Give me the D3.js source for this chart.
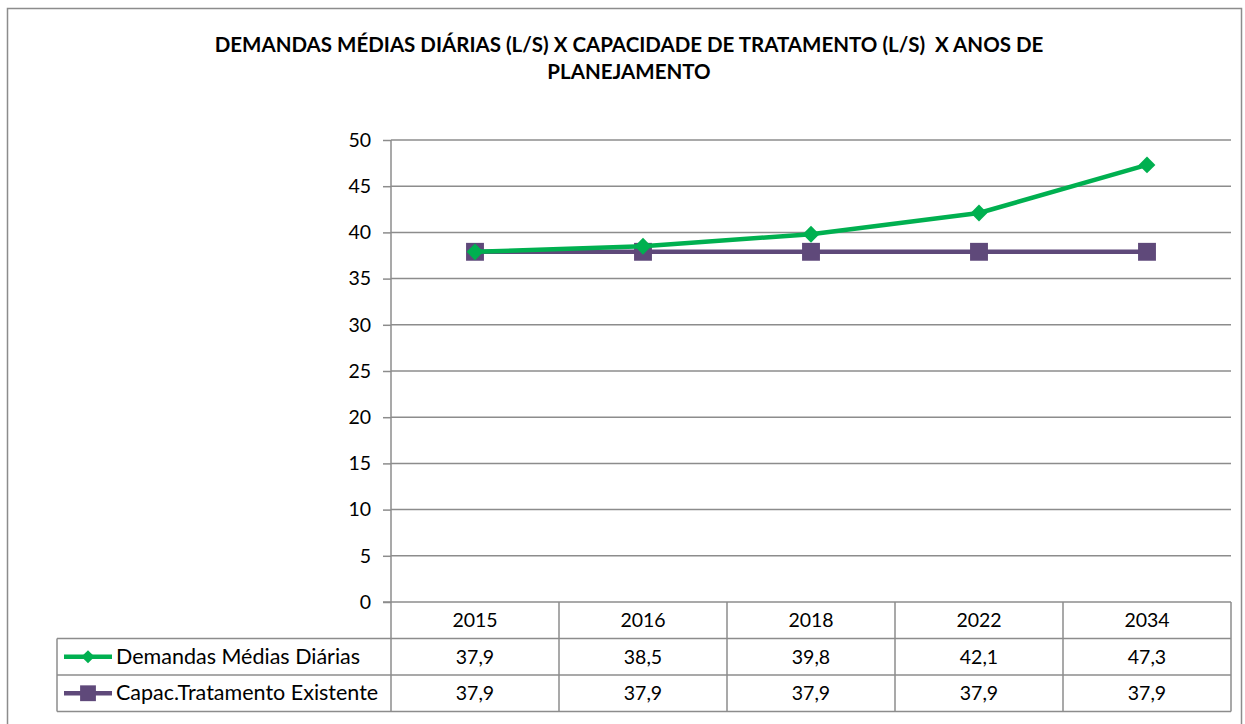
<!DOCTYPE html>
<html>
<head>
<meta charset="utf-8">
<script src="https://cdn.jsdelivr.net/npm/d3@7"></script>
<style>
  body { margin: 0; background: #fff; }
  svg { font-family: Lato, "Open Sans", sans-serif; }
</style>
</head>
<body>
<svg id="chart" width="1245" height="724"></svg>
<script>
// chart data
const years = ["2015", "2016", "2018", "2022", "2034"];
const demandas = [37.9, 38.5, 39.8, 42.1, 47.3];
const capacidade = [37.9, 37.9, 37.9, 37.9, 37.9];
const seriesNames = ["Demandas Médias Diárias", "Capac.Tratamento Existente"];
const yTicks = [0, 5, 10, 15, 20, 25, 30, 35, 40, 45, 50];
const titleLines = ["DEMANDAS MÉDIAS DIÁRIAS (L/S) X CAPACIDADE DE TRATAMENTO (L/S)  X ANOS DE", "PLANEJAMENTO"];

const svg = d3.select("#chart");
const plotLeft = 391, plotRight = 1231, plotTop = 140, plotBottom = 602;
const rowH = 36.5;
const gridColor = "#8c8c8c";
const colors = ["#00b050", "#5f497a"];
const numSize = 19.5;

// outer frame
svg.append("rect")
  .attr("x", 7.5).attr("y", 8.5)
  .attr("width", 1234).attr("height", 730)
  .attr("fill", "#fff").attr("stroke", "#8c8c8c").attr("stroke-width", 1.5);

// title
svg.selectAll(".title")
  .data(titleLines)
  .enter().append("text")
  .attr("x", 629)
  .attr("y", (d, i) => 52 + i * 27)
  .attr("text-anchor", "middle")
  .attr("font-weight", "bold")
  .attr("font-size", 20.5)
  .style("white-space", "pre")
  .text(d => d);

const x = d3.scaleBand().domain(years).range([plotLeft, plotRight]);
const y = d3.scaleLinear().domain([0, 50]).range([plotBottom, plotTop]);

// gridlines
svg.append("g")
  .selectAll("line")
  .data(yTicks.filter(t => t > 0))
  .enter().append("line")
  .attr("x1", plotLeft).attr("x2", plotRight)
  .attr("y1", d => y(d)).attr("y2", d => y(d))
  .attr("stroke", gridColor).attr("stroke-width", 1.5);

// y axis
const yAxis = svg.append("g")
  .attr("transform", `translate(${plotLeft},0)`)
  .call(d3.axisLeft(y).tickValues(yTicks).tickSize(8).tickPadding(12));
yAxis.select(".domain").remove();
yAxis.selectAll("line").attr("stroke", gridColor).attr("stroke-width", 1.5);
yAxis.selectAll("text")
  .attr("font-size", numSize)
  .attr("font-family", "Lato, 'Open Sans', sans-serif")
  .attr("fill", "#000");
svg.append("line")
  .attr("x1", plotLeft).attr("x2", plotLeft)
  .attr("y1", plotTop).attr("y2", plotBottom + rowH * 3)
  .attr("stroke", gridColor).attr("stroke-width", 1.5);

// data table
const table = svg.append("g");
[0, 1, 2, 3].forEach(r => {
  table.append("line")
    .attr("x1", r === 0 ? plotLeft - 8 : 57).attr("x2", plotRight)
    .attr("y1", plotBottom + r * rowH).attr("y2", plotBottom + r * rowH)
    .attr("stroke", gridColor).attr("stroke-width", 1.5);
});
years.forEach(yr => {
  table.append("line")
    .attr("x1", x(yr) + x.bandwidth()).attr("x2", x(yr) + x.bandwidth())
    .attr("y1", plotBottom).attr("y2", plotBottom + rowH * 3)
    .attr("stroke", gridColor).attr("stroke-width", 1.5);
});
table.append("line")
  .attr("x1", 57).attr("x2", 57)
  .attr("y1", plotBottom + rowH).attr("y2", plotBottom + rowH * 3)
  .attr("stroke", gridColor).attr("stroke-width", 1.5);

// header years
table.selectAll(".yr")
  .data(years)
  .enter().append("text")
  .attr("x", d => x(d) + x.bandwidth() / 2)
  .attr("y", plotBottom + rowH / 2 + 7)
  .attr("text-anchor", "middle")
  .attr("font-size", numSize)
  .text(d => d);

const fmt = v => d3.format(".1f")(v).replace(".", ",");
[demandas, capacidade].forEach((vals, r) => {
  table.selectAll(".v" + r)
    .data(vals)
    .enter().append("text")
    .attr("x", (d, i) => x(years[i]) + x.bandwidth() / 2)
    .attr("y", plotBottom + rowH * (r + 1) + rowH / 2 + 7)
    .attr("text-anchor", "middle")
    .attr("font-size", numSize)
    .text(d => fmt(d));
});

// series lines and markers
const line = d3.line()
  .x((d, i) => x(years[i]) + x.bandwidth() / 2)
  .y(d => y(d));

const diamond = d3.symbol().type(d3.symbolDiamond2).size(180);
const square = d3.symbol().type(d3.symbolSquare).size(320);

[capacidade, demandas].forEach(vals => {
  const idx = vals === demandas ? 0 : 1;
  svg.append("path")
    .datum(vals)
    .attr("d", line)
    .attr("fill", "none")
    .attr("stroke", colors[idx])
    .attr("stroke-width", 4.5)
    .attr("stroke-linejoin", "round");
  svg.selectAll(".m" + idx)
    .data(vals)
    .enter().append("path")
    .attr("transform", (d, i) => `translate(${x(years[i]) + x.bandwidth() / 2},${y(d)})`)
    .attr("d", idx === 0 ? diamond : square)
    .attr("fill", colors[idx]);
});

// legend keys in table
seriesNames.forEach((name, r) => {
  const cy = plotBottom + rowH * (r + 1) + rowH / 2;
  table.append("line")
    .attr("x1", 64).attr("x2", 112)
    .attr("y1", cy).attr("y2", cy)
    .attr("stroke", colors[r]).attr("stroke-width", 4.5);
  table.append("path")
    .attr("transform", `translate(88,${cy})`)
    .attr("d", r === 0 ? d3.symbol().type(d3.symbolDiamond2).size(110)() : d3.symbol().type(d3.symbolSquare).size(250)())
    .attr("fill", colors[r]);
  table.append("text")
    .attr("x", 116)
    .attr("y", cy + 7)
    .attr("font-size", 21.5)
    .text(name);
});
</script>
</body>
</html>
